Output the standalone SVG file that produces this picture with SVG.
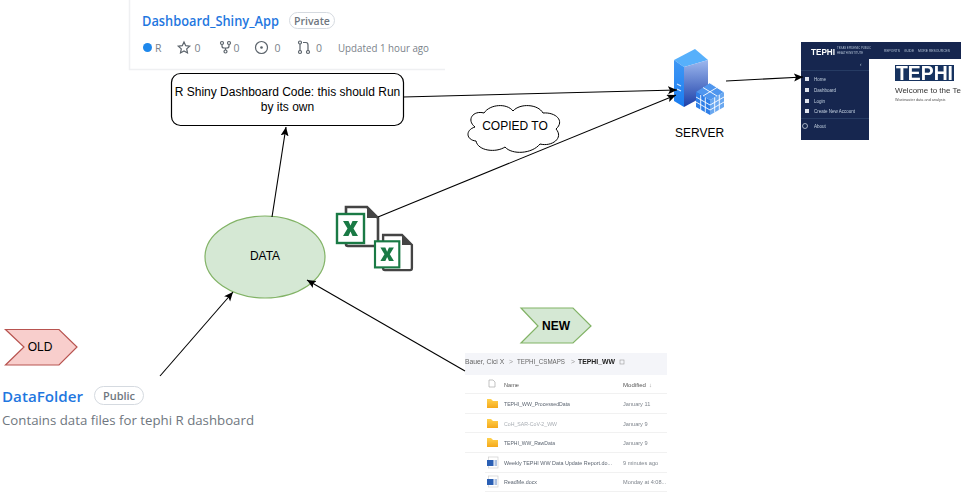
<svg xmlns="http://www.w3.org/2000/svg" width="961" height="504" viewBox="0 0 961 504">
<defs>
<marker id="arr" markerWidth="10" markerHeight="10" refX="9" refY="4" orient="auto" markerUnits="userSpaceOnUse"><path d="M0,0 L9,4 L0,8 L2,4 Z" fill="#000"/></marker>
<filter id="soft" x="-5%" y="-5%" width="110%" height="110%"><feGaussianBlur stdDeviation="0.35"/></filter>
<linearGradient id="towerF" x1="0" y1="0" x2="0" y2="1"><stop offset="0" stop-color="#9db8ee"/><stop offset="1" stop-color="#1c3fa8"/></linearGradient>
<linearGradient id="towerL" x1="0" y1="0" x2="0" y2="1"><stop offset="0" stop-color="#3f98f5"/><stop offset="1" stop-color="#1a7cf0"/></linearGradient>
<linearGradient id="folderG" x1="0" y1="0" x2="0" y2="1"><stop offset="0" stop-color="#ffd24d"/><stop offset="1" stop-color="#f5a81c"/></linearGradient>
<g id="folder"><path d="M0,0 H4 L6,2 H11 V9 H0 Z" fill="url(#folderG)"/></g>
<g id="word"><rect x="1.500" y="0" width="9.500" height="11" fill="#fff" stroke="#c8c8c8" stroke-width="0.600"/><rect x="0" y="3" width="6.500" height="6" fill="#2b5fb4"/><path d="M7.500,4 H10 M7.500,6 H10 M7.500,8 H10" stroke="#2b5fb4" stroke-width="0.800"/></g>
<g id="xl"><path d="M9,0 H30 L41,11 V37 Q41,39 39,39 H11 Q9,39 9,37 Z" fill="#fff" stroke="#444" stroke-width="2.600"/><path d="M30,0 L41,11 H30 Z" fill="#444"/><rect x="0" y="7" width="27" height="29" fill="#fff" stroke="#1a7a45" stroke-width="2.400"/><path d="M6,14 H11.500 L13.500,18.500 L15.500,14 H21 L16.500,21.500 L21,29 H15.500 L13.500,24.500 L11.500,29 H6 L10.500,21.500 Z" fill="#1a7a45"/></g>
</defs>
<style>
text{font-family:"Liberation Sans",Arial,sans-serif;fill:#000}
.gh{font-family:"Open Sans","Noto Sans",sans-serif}
.link{font-weight:600;fill:#1f77e0}
.meta{font-size:10.500px;fill:#7a828a}
.pill{fill:#fff;stroke:#d5dae0;stroke-width:1}
.ic{fill:none;stroke:#5b636b;stroke-width:1.200}
.conn{fill:none;stroke:#000;stroke-width:1.100;marker-end:url(#arr)}
.nav{font-size:4.500px;fill:#c6cfe0}
.navhead{font-size:3.800px;fill:#b8c2d8}
.row{font-size:5.800px;fill:#5b6470}
.date{font-size:5.600px;fill:#7e848c}
.sep{stroke:#eeeeee;stroke-width:0.800}
</style>
<rect width="961" height="504" fill="#fff"/>

<g id="repo-shiny">
<path d="M129.500,0 V69.500 H445" fill="none" stroke="#eff0f2" stroke-width="1.500"/>
<text class="gh link" x="142" y="26" font-size="14" textLength="137" lengthAdjust="spacingAndGlyphs">Dashboard_Shiny_App</text>
<rect class="pill" x="289.500" y="12.500" width="45" height="16" rx="8"/>
<text class="gh" x="312" y="25" font-size="10.500" font-weight="600" text-anchor="middle" style="fill:#6f7780">Private</text>
<circle cx="147.500" cy="47.500" r="4.500" fill="#1e88ec"/>
<text class="gh meta" x="155" y="52">R</text>
<path class="ic" d="M184,42 l1.700,3.700 4,.5 -3,2.700 .8,4 -3.500,-2 -3.500,2 .8,-4 -3,-2.700 4,-.5 Z"/>
<text class="gh meta" x="194.500" y="52">0</text>
<path class="ic" d="M222,44.500 V46 Q222,48 224,48 H225.500 V50 M229,44.500 V46 Q229,48 227,48 H225.500"/>
<circle class="ic" cx="222" cy="43" r="1.500"/><circle class="ic" cx="229" cy="43" r="1.500"/><circle class="ic" cx="225.500" cy="51.500" r="1.500"/>
<text class="gh meta" x="233.500" y="52">0</text>
<circle class="ic" cx="261.500" cy="47.500" r="6"/><circle cx="261.500" cy="47.500" r="1.300" fill="#5b636b"/>
<text class="gh meta" x="274.500" y="52">0</text>
<path class="ic" d="M300,44 V51 M303,42.500 H306 Q308,42.500 308,45 V51"/>
<circle class="ic" cx="300" cy="42.500" r="1.500"/><circle class="ic" cx="300" cy="52" r="1.500"/><circle class="ic" cx="308" cy="52" r="1.500"/>
<text class="gh meta" x="316" y="52">0</text>
<text class="gh meta" x="338" y="52" textLength="91" lengthAdjust="spacingAndGlyphs">Updated 1 hour ago</text>
</g>

<g id="code-box">
<rect x="171.500" y="73.500" width="232" height="52" rx="9" fill="#fff" stroke="#000" stroke-width="1.200"/>
<text x="287.500" y="96" font-size="12" text-anchor="middle">R Shiny Dashboard Code: this should Run</text>
<text x="287.500" y="111" font-size="12" text-anchor="middle">by its own</text>
</g>

<g id="copied-to">
<path d="M484,113 C490,104 507,103 513,111 C520,103 538,104 543,113 C556,112 565,121 556,129 C564,138 552,147 540,144 C532,154 512,155 505,147 C496,153 478,151 476,141 C466,140 465,130 475,127 C466,120 473,110 484,113 Z" fill="#fff" stroke="#000" stroke-width="1"/>
<text x="515" y="130" font-size="12" text-anchor="middle">COPIED TO</text>
</g>

<g id="data">
<ellipse cx="265" cy="257" rx="60" ry="41" fill="#d5e8d4" stroke="#82b366" stroke-width="1.200"/>
<text x="265" y="260" font-size="12" text-anchor="middle">DATA</text>
</g>

<g id="excel-files">
<use href="#xl" x="337" y="207"/>
<use href="#xl" transform="translate(375 235) scale(0.9)"/>
</g>

<g id="server">
<path d="M674,60 L695,49 L708,60 L684,67 Z" fill="#57b0fb"/>
<path d="M674,60 L684,67 V107 L674,101 Z" fill="url(#towerL)"/>
<path d="M684,67 L708,60 V94 L684,107 Z" fill="url(#towerF)"/>
<path d="M677,84 L681,86 M677,89 L681,91" stroke="#cfe6ff" stroke-width="1.200"/>
<path d="M710,83 L724,92 L710,100 L696,92 Z" fill="#4f96ee"/>
<path d="M696,92 L710,100 V115 L696,107 Z" fill="#2f7fe8"/>
<path d="M724,92 L710,100 V115 L724,107 Z" fill="#6aa8f0"/>
<path d="M703,87.500 L717,96 M710,83 L724,92 M703,96 L717,87.500 M696,97 L710,105 L724,97 M696,102 L710,110 L724,102 M700.700,95 V110 M705.300,97.500 V112.500 M714.700,97.500 V112.500 M719.300,95 V110" fill="none" stroke="#fff" stroke-width="0.900"/>
<text x="699.500" y="137" font-size="12" text-anchor="middle">SERVER</text>
</g>

<g id="dashboard-screenshot" filter="url(#soft)">
<rect x="801" y="42" width="160" height="98" fill="#fff"/>
<rect x="801" y="42" width="160" height="17" fill="#15284f"/>
<rect x="801" y="59" width="68" height="81" fill="#15284f"/>
<text x="811" y="55" font-size="9.500" font-weight="700" style="fill:#fff" textLength="24" lengthAdjust="spacingAndGlyphs">TEPHI</text>
<text class="navhead" x="837" y="49" textLength="34" lengthAdjust="spacingAndGlyphs">TEXAS EPIDEMIC PUBLIC</text>
<text class="navhead" x="837" y="54" textLength="26" lengthAdjust="spacingAndGlyphs">HEALTH INSTITUTE</text>
<text class="navhead" x="884" y="52" textLength="16" lengthAdjust="spacingAndGlyphs">REPORTS</text>
<text class="navhead" x="904" y="52" textLength="10" lengthAdjust="spacingAndGlyphs">GUIDE</text>
<text class="navhead" x="918" y="52" textLength="32" lengthAdjust="spacingAndGlyphs">MORE RESOURCES</text>
<path d="M801,70.500 H869 M801,118.500 H869" stroke="#2c3f68" stroke-width="0.800"/>
<text class="nav" x="860" y="66">‹</text>
<rect x="805" y="77" width="4" height="4" fill="#dfe4ee"/><text class="nav" x="814" y="80.500">Home</text>
<rect x="805" y="88" width="4" height="4" fill="#dfe4ee"/><text class="nav" x="814" y="91.500">Dashboard</text>
<rect x="805" y="99" width="4" height="4" fill="#dfe4ee"/><text class="nav" x="814" y="102.500">Login</text>
<rect x="805" y="109" width="4" height="4" fill="#dfe4ee"/><text class="nav" x="814" y="112.500">Create New Account</text>
<circle cx="805" cy="126" r="2.500" fill="none" stroke="#dfe4ee" stroke-width="0.700"/><text class="nav" x="814" y="128">About</text>
<rect x="895" y="65" width="59" height="16" fill="#15335f"/>
<text x="896" y="80" font-size="20" font-weight="700" style="fill:#fff" textLength="57" lengthAdjust="spacingAndGlyphs">TEPHI</text>
<text x="895" y="93" font-size="8" style="fill:#333">Welcome to the Te</text>
<text x="895" y="101" font-size="3.800" style="fill:#555">Wastewater data and analysis</text>
</g>

<g id="new-tag">
<path d="M521,308 H573 L591,326 L573,343 H521 L538,326 Z" fill="#d5e8d4" stroke="#82b366" stroke-width="1.200"/>
<text x="556" y="330" font-size="12" font-weight="700" text-anchor="middle">NEW</text>
</g>

<g id="old-tag">
<path d="M5.500,329.500 H59 L77,347 L59,365 H5.500 L24,347 Z" fill="#f8cecc" stroke="#b85450" stroke-width="1.200"/>
<text x="40" y="351" font-size="12" text-anchor="middle">OLD</text>
</g>

<g id="repo-data">
<text class="gh link" x="2" y="402" font-size="15" textLength="81" lengthAdjust="spacingAndGlyphs">DataFolder</text>
<rect class="pill" x="94.500" y="386.500" width="49" height="18" rx="9"/>
<text class="gh" x="119" y="400" font-size="11" font-weight="600" text-anchor="middle" style="fill:#6f7780">Public</text>
<text class="gh" x="2" y="425" font-size="13" style="fill:#6f7780" textLength="252" lengthAdjust="spacingAndGlyphs">Contains data files for tephi R dashboard</text>
</g>

<g id="sharepoint-list" filter="url(#soft)">
<rect x="465" y="353" width="202" height="22" fill="#f4f5f9"/>
<text x="465" y="364" font-size="6.800" style="fill:#666">Bauer, Cici X</text>
<text x="509" y="364" font-size="6.800" style="fill:#999">&gt;</text>
<text x="517" y="364" font-size="6.800" style="fill:#666" textLength="48" lengthAdjust="spacingAndGlyphs">TEPHI_CSMAPS</text>
<text x="571" y="364" font-size="6.800" style="fill:#999">&gt;</text>
<text x="578" y="364" font-size="6.800" font-weight="700" style="fill:#222" textLength="37" lengthAdjust="spacingAndGlyphs">TEPHI_WW</text>
<rect x="620" y="360" width="4" height="4" fill="none" stroke="#999" stroke-width="0.600"/>
<path d="M489,380 H493 L495,382 V387 H489 Z" fill="none" stroke="#aaa" stroke-width="0.700"/>
<text x="504" y="387" font-size="5.800" style="fill:#555" textLength="15" lengthAdjust="spacingAndGlyphs">Name</text>
<text x="623" y="387" font-size="5.800" style="fill:#555" textLength="23" lengthAdjust="spacingAndGlyphs">Modified</text>
<text x="649" y="387" font-size="5.800" style="fill:#999">↓</text>
<path class="sep" d="M465,393.500 H667 M465,413.500 H667 M465,432.500 H667 M465,452.500 H667 M485,472.500 H667 M485,491.500 H667"/>
<use href="#folder" x="487" y="399"/>
<text class="row" x="504" y="406" textLength="66" lengthAdjust="spacingAndGlyphs">TEPHI_WW_ProcessedData</text>
<text class="date" x="623" y="406">January 11</text>
<use href="#folder" x="487" y="419"/>
<text class="row" x="504" y="426" style="fill:#a8adb3" textLength="53" lengthAdjust="spacingAndGlyphs">CoH_SAR-CoV-2_WW</text>
<text class="date" x="623" y="426">January 9</text>
<use href="#folder" x="487" y="438"/>
<text class="row" x="504" y="445" textLength="51" lengthAdjust="spacingAndGlyphs">TEPHI_WW_RawData</text>
<text class="date" x="623" y="445">January 9</text>
<use href="#word" x="487" y="457"/>
<text class="row" x="504" y="465" textLength="108" lengthAdjust="spacingAndGlyphs">Weekly TEPHI WW Data Update Report.do...</text>
<text class="date" x="623" y="465">9 minutes ago</text>
<use href="#word" x="487" y="476"/>
<text class="row" x="504" y="484" textLength="33" lengthAdjust="spacingAndGlyphs">ReadMe.docx</text>
<text class="date" x="623" y="484">Monday at 4:08...</text>
</g>

<g id="connectors">
<path class="conn" d="M160,376 L233,292"/>
<path class="conn" d="M465,371 L307,280"/>
<path class="conn" d="M272,217 L286,127"/>
<path class="conn" d="M378,217 L676,95"/>
<path class="conn" d="M403,97 L677,90"/>
<path class="conn" d="M726,81 L803,77"/>
</g>
</svg>
